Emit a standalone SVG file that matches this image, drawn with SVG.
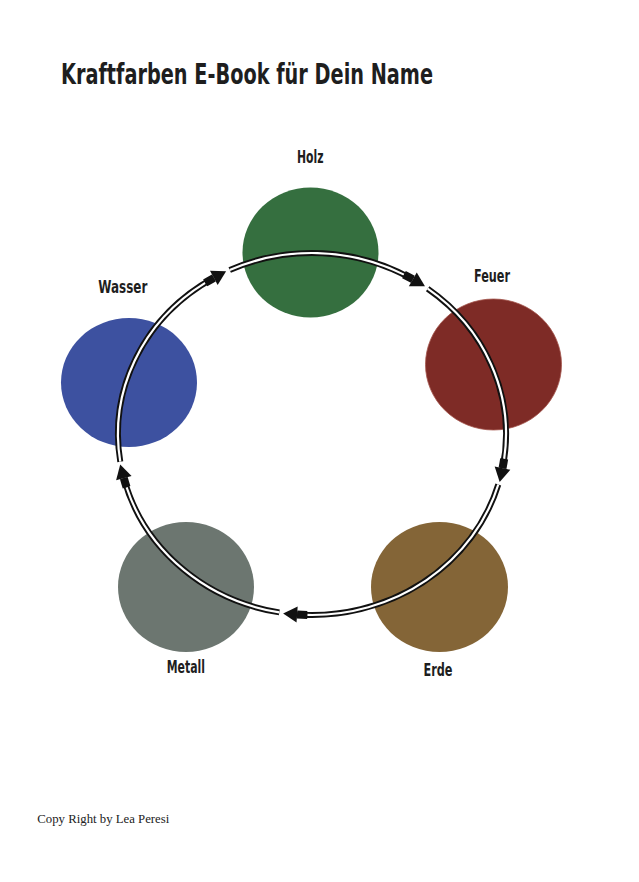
<svg xmlns="http://www.w3.org/2000/svg" width="639" height="882" viewBox="0 0 639 882">
<style>
.lbl{font-family:"DejaVu Sans Condensed","DejaVu Sans","Liberation Sans",sans-serif;font-stretch:condensed;font-weight:bold;fill:#1e1e1e}
.ring{fill:none;stroke:#111;stroke-width:6}
.gap{fill:none;stroke:#fff;stroke-width:2.2}
.shaft{fill:none;stroke:#111;stroke-width:8}
</style>
<defs>
<marker id="head" markerUnits="userSpaceOnUse" markerWidth="20" markerHeight="20" viewBox="0 -10 20 20" refX="0" refY="0" orient="auto" overflow="visible">
<path d="M0,-8 L14,0 L0,8 z" fill="#111"/>
</marker>
</defs>
<rect width="639" height="882" fill="#fff"/>
<text class="lbl" x="61" y="83.5" font-size="29" textLength="372" lengthAdjust="spacingAndGlyphs">Kraftfarben E-Book für Dein Name</text>
<g id="holz">
<ellipse cx="310.5" cy="252.5" rx="68" ry="65" fill="#356f3f"/>
<text class="lbl" x="297" y="162.5" font-size="17" textLength="26.5" lengthAdjust="spacingAndGlyphs">Holz</text>
</g>
<g id="feuer">
<ellipse cx="493.5" cy="364.5" rx="68" ry="65.5" fill="#7e2b26" stroke="#a4564c" stroke-width="0.8"/>
<text class="lbl" x="474" y="281.5" font-size="17" textLength="36" lengthAdjust="spacingAndGlyphs">Feuer</text>
</g>
<g id="erde">
<ellipse cx="439.5" cy="587" rx="68.5" ry="65" fill="#846537"/>
<text class="lbl" x="423.5" y="675.5" font-size="17" textLength="29" lengthAdjust="spacingAndGlyphs">Erde</text>
</g>
<g id="metall">
<ellipse cx="186" cy="587" rx="68" ry="65" fill="#6c7670"/>
<text class="lbl" x="166.7" y="672.5" font-size="17" textLength="38.3" lengthAdjust="spacingAndGlyphs">Metall</text>
</g>
<g id="wasser">
<ellipse cx="129" cy="382.5" rx="68" ry="64.5" fill="#3d51a0"/>
<text class="lbl" x="98.3" y="292.5" font-size="17" textLength="49" lengthAdjust="spacingAndGlyphs">Wasser</text>
</g>
<g id="connectors">
<path class="ring" d="M120.28,461.69 A194,181 0 0 1 213.83,277.89" marker-end="url(#head)"/>
<path class="gap" d="M120.28,461.69 A194,181 0 0 1 205.21,282.89"/>
<path class="shaft" d="M205.21,282.89 A194,181 0 0 1 213.83,277.89"/>

<path class="ring" d="M229.71,270.09 A194,181 0 0 1 412.79,279.34" marker-end="url(#head)"/>
<path class="gap" d="M229.71,270.09 A194,181 0 0 1 403.97,274.63"/>
<path class="shaft" d="M403.97,274.63 A194,181 0 0 1 412.79,279.34"/>

<path class="ring" d="M427.67,288.69 A194,181 0 0 1 502.50,468.23" marker-end="url(#head)"/>
<path class="gap" d="M427.67,288.69 A194,181 0 0 1 504.16,458.88"/>
<path class="shaft" d="M504.16,458.88 A194,181 0 0 1 502.50,468.23"/>

<path class="ring" d="M498.30,484.50 A194,181 0 0 1 297.12,614.47" marker-end="url(#head)"/>
<path class="gap" d="M498.30,484.50 A194,181 0 0 1 307.26,614.95"/>
<path class="shaft" d="M307.26,614.95 A194,181 0 0 1 297.12,614.47"/>

<path class="ring" d="M279.31,612.41 A194,181 0 0 1 123.85,478.10" marker-end="url(#head)"/>
<path class="gap" d="M279.31,612.41 A194,181 0 0 1 126.58,487.22"/>
<path class="shaft" d="M126.58,487.22 A194,181 0 0 1 123.85,478.10"/>
</g>
<text x="37.3" y="823.3" font-family="'Liberation Serif',serif" font-size="12" fill="#222" textLength="132" lengthAdjust="spacingAndGlyphs">Copy Right by Lea Peresi</text>
</svg>
